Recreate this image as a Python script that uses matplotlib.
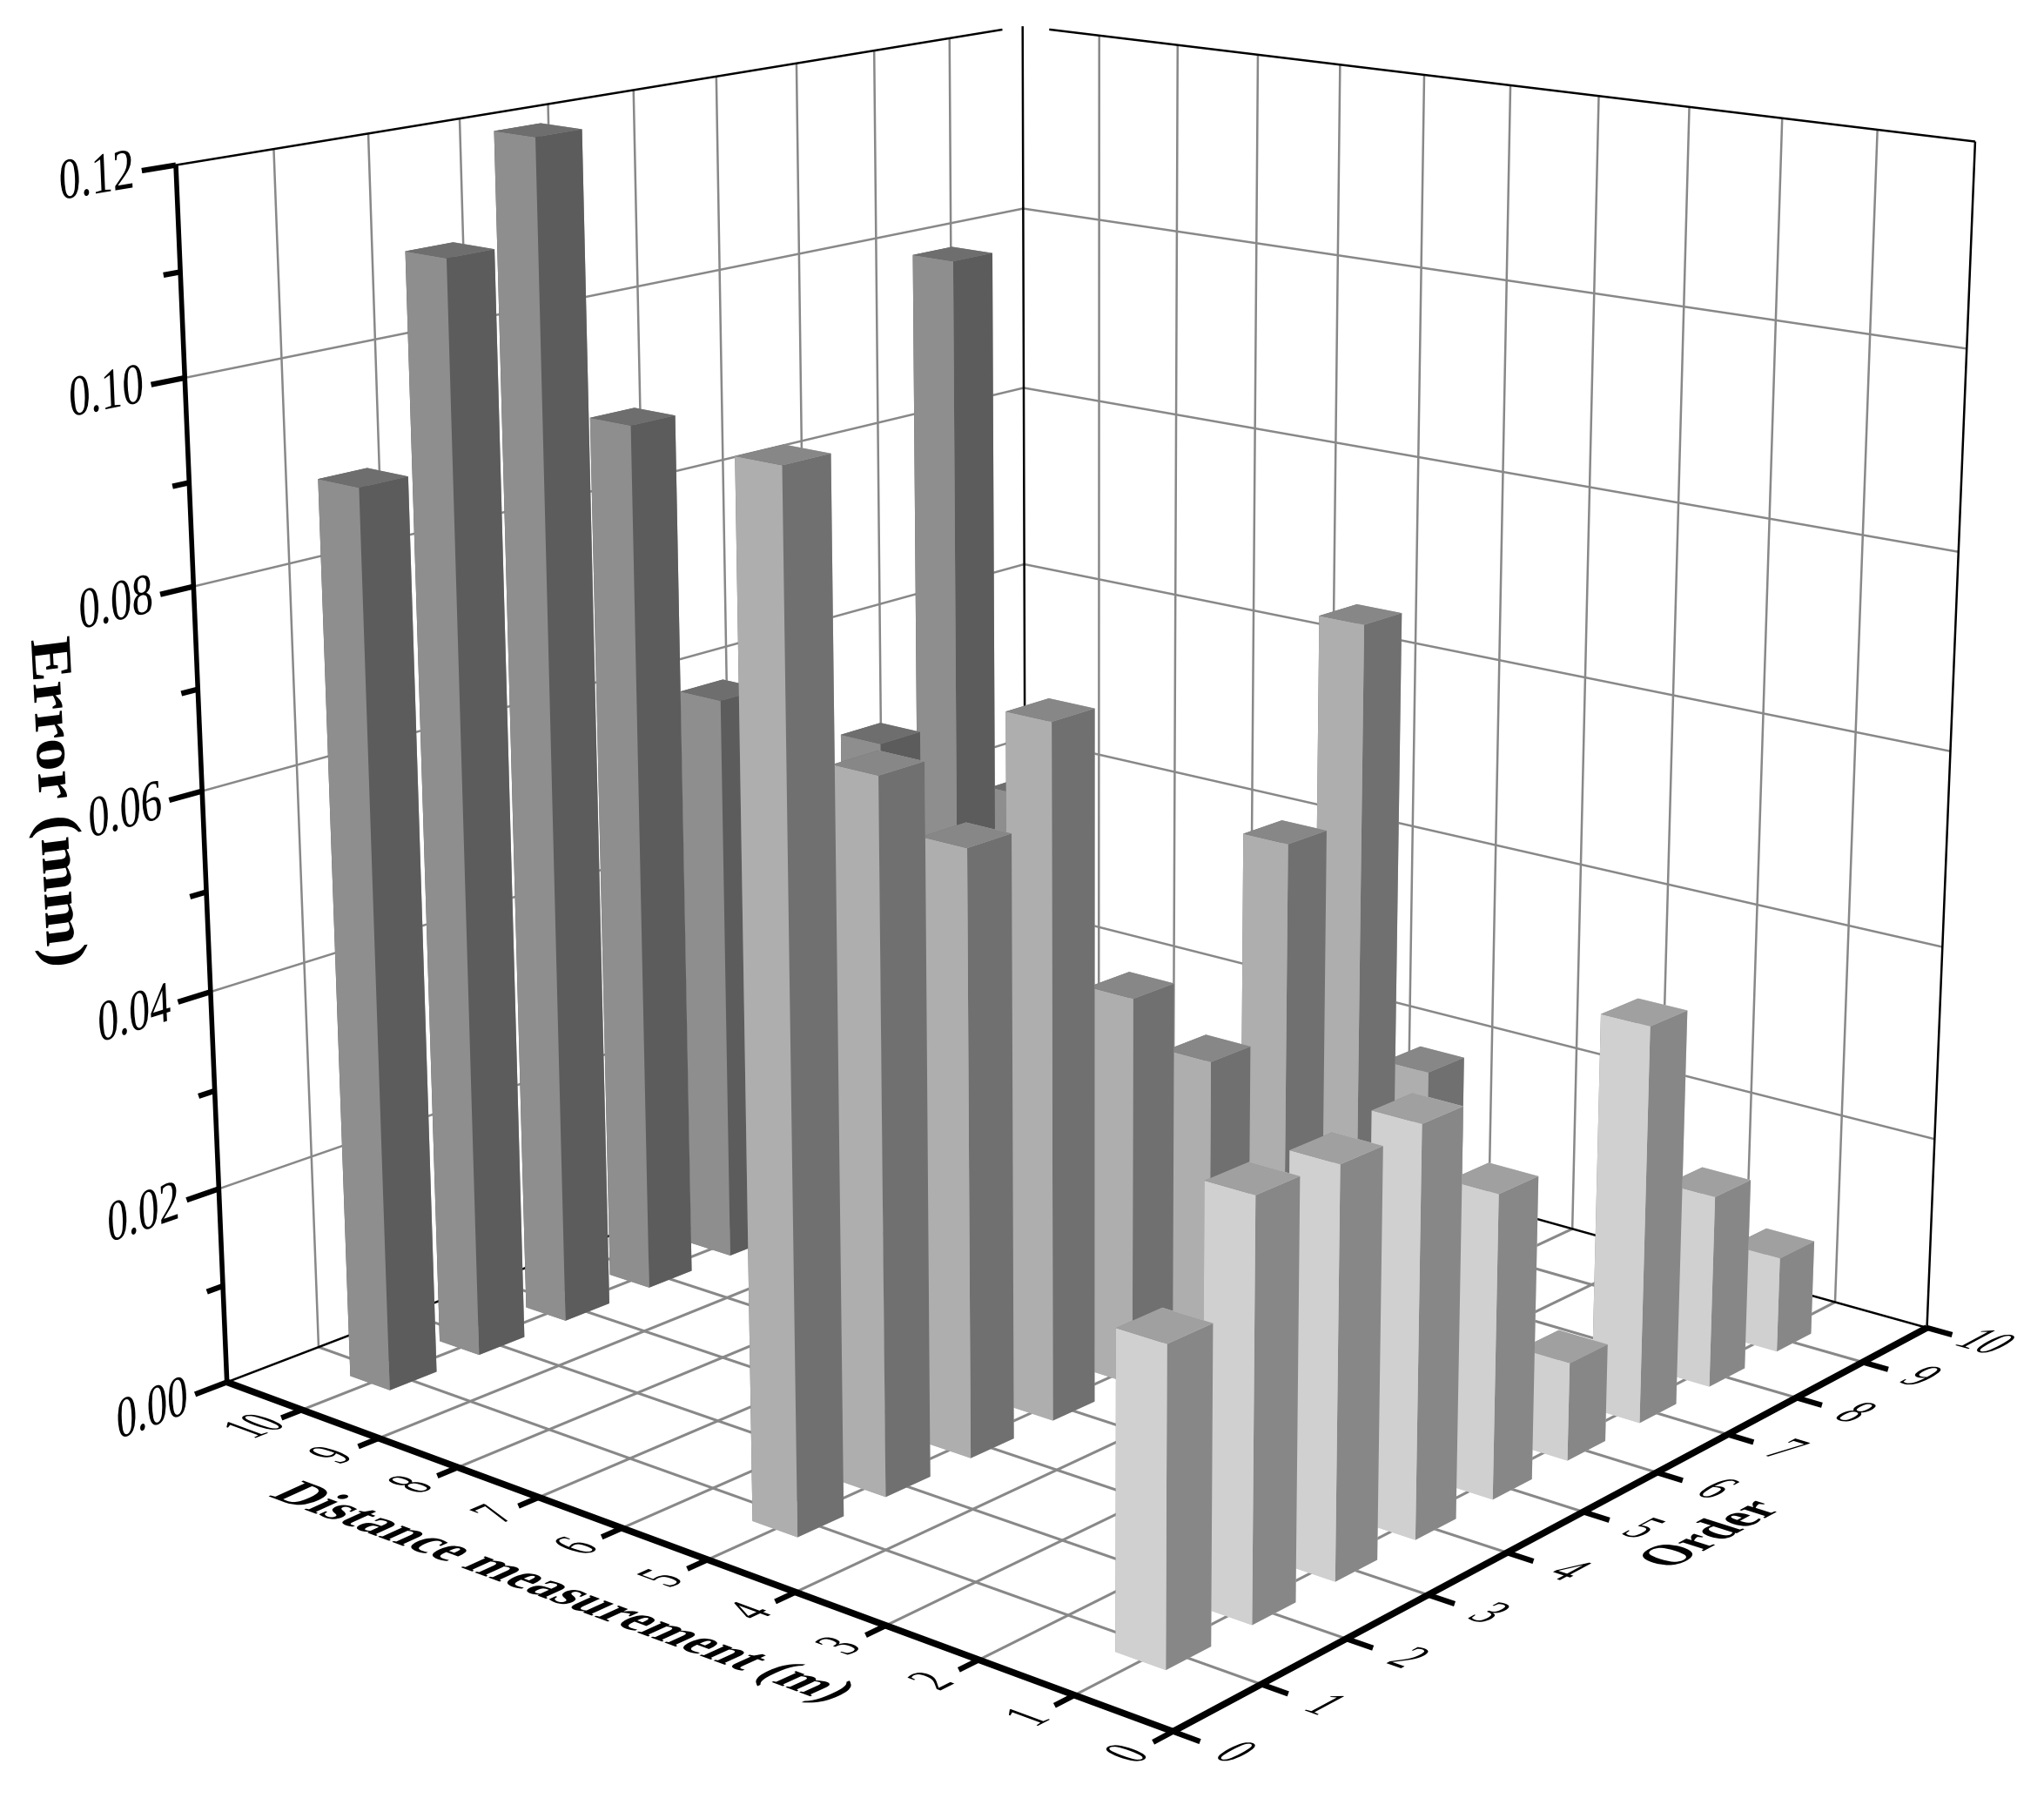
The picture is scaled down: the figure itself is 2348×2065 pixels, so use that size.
"""3D bar chart of ranging error per order and distance"""
import numpy as np
import matplotlib
matplotlib.use("Agg")
import matplotlib.pyplot as plt
from matplotlib.patheffects import AbstractPathEffect
from matplotlib.transforms import Affine2D
from mpl_toolkits.mplot3d.art3d import Line3DCollection

# ------------------------------------------------------------
# Data
# ------------------------------------------------------------
orders = [1, 2, 3, 4, 5, 6, 7, 8, 9]
error_10m = [0.090, 0.110, 0.120, 0.090, 0.0596, 0.048, 0.050, 0.0996, 0.039]
error_5m = [0.100, 0.0695, 0.060, 0.0695, 0.0395, 0.030, 0.0495, 0.0695, 0.0195]
error_1m = [0.030, 0.040, 0.0395, 0.040, 0.030, 0.0098, 0.040, 0.0196, 0.0098]

distance_ticks = list(range(0, 11))
order_ticks = list(range(0, 11))
z_major = [0.00, 0.02, 0.04, 0.06, 0.08, 0.10, 0.12]
z_minor = [0.01, 0.03, 0.05, 0.07, 0.09, 0.11]

# Axis ranges: the distance axis runs one unit past its last label
D_MAX, O_MAX, Z_MAX = 11.0, 10.0, 0.12
BAR_W = 0.52

# (top, left face, right face) grey per row
rows = [
    (10, error_10m, ("#6e6e6e", "#8e8e8e", "#5c5c5c")),
    (5, error_5m, ("#878787", "#aeaeae", "#707070")),
    (1, error_1m, ("#a0a0a0", "#d0d0d0", "#878787")),
]

# Where the corners of the box sit in the picture (pixels on the 1568 wide view)
calib = [
    ((11, 0, 0), (175, 1058)),
    ((0, 0, 0), (895, 1328)),
    ((0, 10, 0), (1478, 1020)),
    ((11, 10, 0), (785, 825)),
    ((11, 0, 0.12), (134.6, 125)),
    ((11, 10, 0.12), (785, 20)),
    ((0, 10, 0.12), (1512, 108)),
    ((5, 0, 0), (543.6, 1198)),
    ((0, 5, 0), (1220, 1157)),
    ((11, 5, 0.12), (485.5, 69)),
    ((5, 10, 0.12), (1162, 66)),
    ((11, 0, 0.06), (155.6, 610)),
    ((11, 10, 0.06), (785, 433)),
]

W, H = 2348, 2065
SCALE = W / 1568

plt.rcParams['font.family'] = ['Liberation Serif', 'DejaVu Serif']

fig = plt.figure(figsize=(W / 100, H / 100), dpi=100)
# Axes3D forces a square box, so make it bigger than the figure
ax = fig.add_axes([-0.1, -0.1, 1.2, 1.2], projection='3d', computed_zorder=False)
ax.set_axis_off()
ax.apply_aspect()


def fit_camera():
    """Projective camera from the calibration points, as a 4x4 matrix for mplot3d"""
    to_2d = ax.transData.inverted()
    pts = np.array([p for p, _ in calib], dtype=float) / [D_MAX, O_MAX, Z_MAX]
    px = np.array([q for _, q in calib], dtype=float) * SCALE
    px[:, 1] = H - px[:, 1]
    uv = to_2d.transform(px)
    s = np.abs(uv).max()
    uv = uv / s
    rows_a = []
    for (x, y, z), (u, v) in zip(pts, uv):
        rows_a.append([x, y, z, 1, 0, 0, 0, 0, -u * x, -u * y, -u * z, -u])
        rows_a.append([0, 0, 0, 0, x, y, z, 1, -v * x, -v * y, -v * z, -v])
    P = np.linalg.svd(np.array(rows_a))[2][-1].reshape(3, 4)
    if (P[2] @ np.r_[pts[0], 1]) < 0:
        P = -P
    w_min = min(P[2] @ np.r_[p, 1] for p in pts)
    depth = P[2] - np.array([0, 0, 0, w_min / 2])
    M = np.vstack([P[0] * s, P[1] * s, depth, P[2]])
    return M @ np.diag([1 / D_MAX, 1 / O_MAX, 1 / Z_MAX, 1])


M = fit_camera()
ax.get_proj = lambda: M


def screen(p):
    v = M @ np.r_[p, 1]
    return ax.transData.transform(v[:2] / v[3])


def direction(a, b, size=1.0):
    d = screen(b) - screen(a)
    return d / np.hypot(*d) * size


class SkewText(AbstractPathEffect):
    """Lays a rotated text into a plane: maps its baseline and up vectors"""

    def __init__(self, base, up, rotation):
        super().__init__()
        self.mat = (Affine2D().rotate_deg(-rotation)
                    + Affine2D.from_values(base[0], base[1], up[0], up[1], 0, 0))

    def draw_path(self, renderer, gc, tpath, affine, rgbFace=None):
        ext = affine.transform_path(tpath).get_extents()
        cx, cy = (ext.x0 + ext.x1) / 2, (ext.y0 + ext.y1) / 2
        t = affine + Affine2D().translate(-cx, -cy) + self.mat + Affine2D().translate(cx, cy)
        renderer.draw_path(gc, tpath, t, rgbFace)


def skew_text(x, y, text, size, base, up, **kw):
    rotation = np.degrees(np.arctan2(base[1], base[0]))
    fig.text(x, y, text, fontsize=size, ha='center', va='center', rotation=rotation,
             path_effects=[SkewText(base, up, rotation)], **kw)


def line3d(a, b, color='#888888', lw=1.8, zorder=1):
    seg = Line3DCollection([[a, b]], colors=color, linewidths=lw, zorder=zorder,
                           capstyle='butt', clip_on=False)
    ax.add_collection3d(seg, autolim=False)


def label3d(p, text, size, base, up):
    x, y = screen(p)
    skew_text(x / W, y / H, text, size, base, up)


# ============================================================
# Walls and floor
# ============================================================
for z in z_major[1:-1]:
    line3d((D_MAX, 0, z), (D_MAX, O_MAX, z))
    line3d((D_MAX, O_MAX, z), (0, O_MAX, z))
for o in order_ticks[1:-1]:
    line3d((D_MAX, o, 0), (D_MAX, o, Z_MAX))
    line3d((0, o, 0), (D_MAX, o, 0), lw=2.2)
for d in range(1, 11):
    line3d((d, O_MAX, 0), (d, O_MAX, Z_MAX))
    line3d((d, 0, 0), (d, O_MAX, 0), lw=2.2)

# thin black frame, the top edges stop short of the back corner
line3d((D_MAX, 0, Z_MAX), (D_MAX, 9.72, Z_MAX), color='black', lw=1.8, zorder=2)
line3d((10.65, O_MAX, Z_MAX), (0, O_MAX, Z_MAX), color='black', lw=1.8, zorder=2)
line3d((D_MAX, 0, 0), (D_MAX, O_MAX, 0), color='black', lw=1.8, zorder=2)
line3d((D_MAX, O_MAX, 0), (0, O_MAX, 0), color='black', lw=1.8, zorder=2)
line3d((D_MAX, O_MAX, 0), (D_MAX, O_MAX, Z_MAX), color='black', lw=1.8, zorder=2)
line3d((0, O_MAX, 0), (0, O_MAX, Z_MAX), color='black', lw=1.8, zorder=2)

# ============================================================
# Bars, painted from the back to the front
# ============================================================
zo = 5
for dist, values, (top, left, right) in rows:
    for o, val in reversed(list(zip(orders, values))):
        # faces of bar3d: -z, +z, -y, +y, -x, +x
        ax.bar3d(dist - BAR_W / 2, o - BAR_W / 2, 0, BAR_W, BAR_W, val,
                 color=[left, top, left, left, right, right], shade=False,
                 zorder=zo, linewidth=0)
        zo += 1

# ============================================================
# Axes, ticks and labels
# ============================================================
TOP = 200
line3d((D_MAX, 0, 0), (D_MAX, 0, Z_MAX), color='black', lw=4.0, zorder=TOP)
line3d((D_MAX, 0, 0), (0, 0, 0), color='black', lw=5.5, zorder=TOP)
line3d((0, 0, 0), (0, O_MAX, 0), color='black', lw=5.5, zorder=TOP)

for z in z_major:
    line3d((D_MAX, 0, z), (D_MAX, -0.34, z), color='black', lw=4.5, zorder=TOP)
    base = direction((D_MAX, 0, z), (D_MAX, 1, z), 1.0)
    up = direction((D_MAX, 0, z), (D_MAX, 0, z + 0.01), 1.33)
    label3d((D_MAX, -0.78, z), f"{z:.2f}", 36, base, up)
for z in z_minor:
    line3d((D_MAX, 0, z), (D_MAX, -0.17, z), color='black', lw=4.5, zorder=TOP)

for d in distance_ticks:
    line3d((d, 0, 0), (d, -0.22, 0), color='black', lw=4.5, zorder=TOP)
    base = direction((d, 0, 0), (d, 1, 0), 1.0)
    up = direction((d + 0.5, 0, 0), (d + 1.5, 0, 0), 1.45)
    label3d((d, -0.5, 0), str(d), 32, base, up)

for o in order_ticks:
    line3d((0, o, 0), (-0.27, o, 0), color='black', lw=4.5, zorder=TOP)
    base = direction((1, o, 0), (0, o, 0), 1.0)
    up = direction((0, o, 0), (0, o + 1, 0), 1.4)
    label3d((-0.62, o, 0), str(o), 32, base, up)


def title_at(x, y, text, base, up):
    skew_text(x * SCALE / W, 1 - y * SCALE / H, text, 40, base, up, fontweight='bold')


title_at(430, 1222, "Distance measurement (m)",
         direction((5, 0, 0), (4, 0, 0), 1.08), direction((5, 0, 0), (5, 1, 0), 1.2))
title_at(1312, 1178, "Order",
         direction((0, 4, 0), (0, 5, 0), 1.0), direction((1, 5, 0), (2, 5, 0), 1.2))
title_at(42, 615, "Error (mm)", (0.07, -1.35), (1.2, 0.15))

ax.set_xlim(0, D_MAX)
ax.set_ylim(0, O_MAX)
ax.set_zlim(0, Z_MAX)

plt.savefig('out.png', dpi=100)
plt.close()
